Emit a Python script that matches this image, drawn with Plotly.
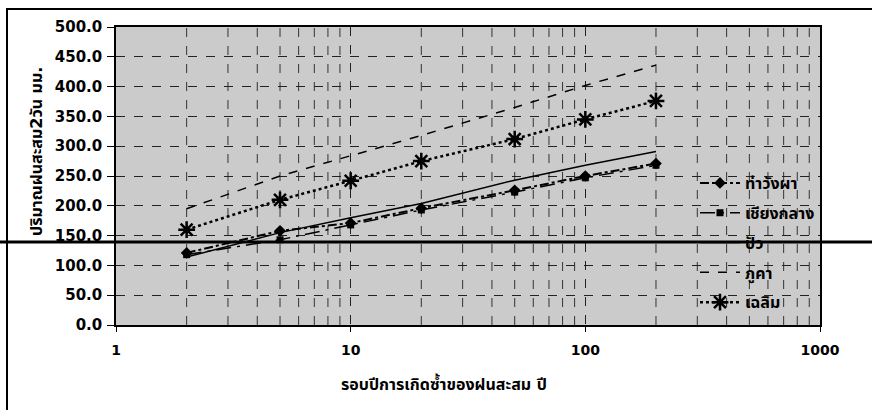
import plotly.graph_objects as go

return_periods = [2, 5, 10, 20, 50, 100, 200]
tha_wang_pha = [121, 158, 171, 196, 226, 250, 271]
chiang_klang = [118, 143, 168, 193, 223, 247, 268]
pua = [114, 155, 180, 204, 243, 268, 291]
phu_kha = [195, 250, 284, 318, 365, 402, 436]
chaloem = [160, 210, 242, 275, 312, 345, 376]

series_names = ["ท่าวังผา", "เชียงกลาง", "ปัว", "ภูคา", "เฉลิม"]
y_ticks = [0, 50, 100, 150, 200, 250, 300, 350, 400, 450, 500]
x_ticks = [1, 10, 100, 1000]
x_minor_grid = [2, 3, 4, 5, 6, 7, 8, 9, 20, 30, 40, 50, 60, 70, 80, 90, 200, 300, 400, 500, 600, 700, 800, 900]

FONT = "DejaVu Sans, Liberation Sans, Noto Sans Thai, Tahoma, sans-serif"

fig = go.Figure()
fig.add_trace(go.Scatter(x=return_periods, y=tha_wang_pha, name=series_names[0], legendgroup="a",
                         mode="lines+markers", line=dict(color="black", width=2, dash="dashdot"),
                         marker=dict(symbol="diamond", size=9, color="black")))
fig.add_trace(go.Scatter(x=return_periods, y=chiang_klang, name=series_names[1], legendgroup="b",
                         mode="lines+markers", line=dict(color="black", width=1.5, dash="longdashdot"),
                         marker=dict(symbol="square", size=7, color="black")))
fig.add_trace(go.Scatter(x=return_periods, y=pua, name=series_names[2], legendgroup="c",
                         mode="lines", line=dict(color="black", width=1.5)))
fig.add_trace(go.Scatter(x=return_periods, y=phu_kha, name=series_names[3], legendgroup="d",
                         mode="lines", line=dict(color="black", width=1.5, dash="dash")))
fig.add_trace(go.Scatter(x=return_periods, y=chaloem, name=series_names[4], legendgroup="e",
                         mode="lines+markers", line=dict(color="black", width=2.5, dash="dot"),
                         marker=dict(symbol="asterisk-open", size=14, color="black", line=dict(width=2.5, color="black"))))

fig.update_layout(
    width=872, height=410,
    margin=dict(l=116, r=52, t=27, b=85),
    paper_bgcolor="white",
    plot_bgcolor="#cbcbcb",
    font=dict(family=FONT, size=13, color="black"),
    showlegend=True,
    legend=dict(x=1, xanchor="right", y=0.02, yanchor="bottom", bgcolor="rgba(0,0,0,0)",
                font=dict(size=16, family=FONT, weight="bold"), tracegroupgap=6,
                traceorder="grouped", itemwidth=40),
    xaxis=dict(type="log", range=[0, 3], tickvals=x_ticks, ticktext=[str(v) for v in x_ticks],
               showgrid=True, gridcolor="#222", griddash="dash", gridwidth=1,
               showline=True, linecolor="black", linewidth=1.5, mirror=True,
               ticks="outside", ticklen=5, tickcolor="black", ticklabelstandoff=6,
               tickfont=dict(size=14, family=FONT, weight="bold"), zeroline=False),
    yaxis=dict(range=[0, 500], tickvals=y_ticks, tickformat=".1f",
               showgrid=True, gridcolor="#222", griddash="dash", gridwidth=1,
               showline=True, linecolor="black", linewidth=1.5, mirror=True,
               ticks="outside", ticklen=7, tickcolor="black", ticklabelstandoff=2,
               tickfont=dict(size=15, family=FONT, weight="bold"), zeroline=False),
    annotations=[
        dict(text="<b>ปริมาณฝนสะสม2วัน มม.</b>", xref="paper", yref="paper",
             x=(36 - 116) / 704, y=(325 - 152) / 298, textangle=-90, showarrow=False,
             font=dict(size=16, family=FONT), xanchor="center", yanchor="middle"),
        dict(text="<b>รอบปีการเกิดซ้ำของฝนสะสม ปี</b>", xref="paper", yref="paper",
             x=(444 - 116) / 704, y=(325 - 383) / 298, showarrow=False,
             font=dict(size=16, family=FONT), xanchor="center", yanchor="middle"),
    ],
)

for xv in x_minor_grid:
    fig.add_shape(type="line", xref="x", yref="paper", x0=xv, x1=xv, y0=0, y1=1,
                  line=dict(color="#333", width=1, dash="dash"), layer="below")

fig.add_shape(type="rect", xref="paper", yref="paper", x0=(7 - 116) / 704, x1=1.3,
              y0=-0.5, y1=(325 - 9) / 298, line=dict(color="black", width=2, dash="solid"),
              layer="above")
fig.add_shape(type="line", xref="paper", yref="paper", x0=-0.2, x1=1.2,
              y0=(325 - 242) / 298, y1=(325 - 242) / 298,
              line=dict(color="black", width=3, dash="solid"), layer="above")

fig.write_html("out.html")
